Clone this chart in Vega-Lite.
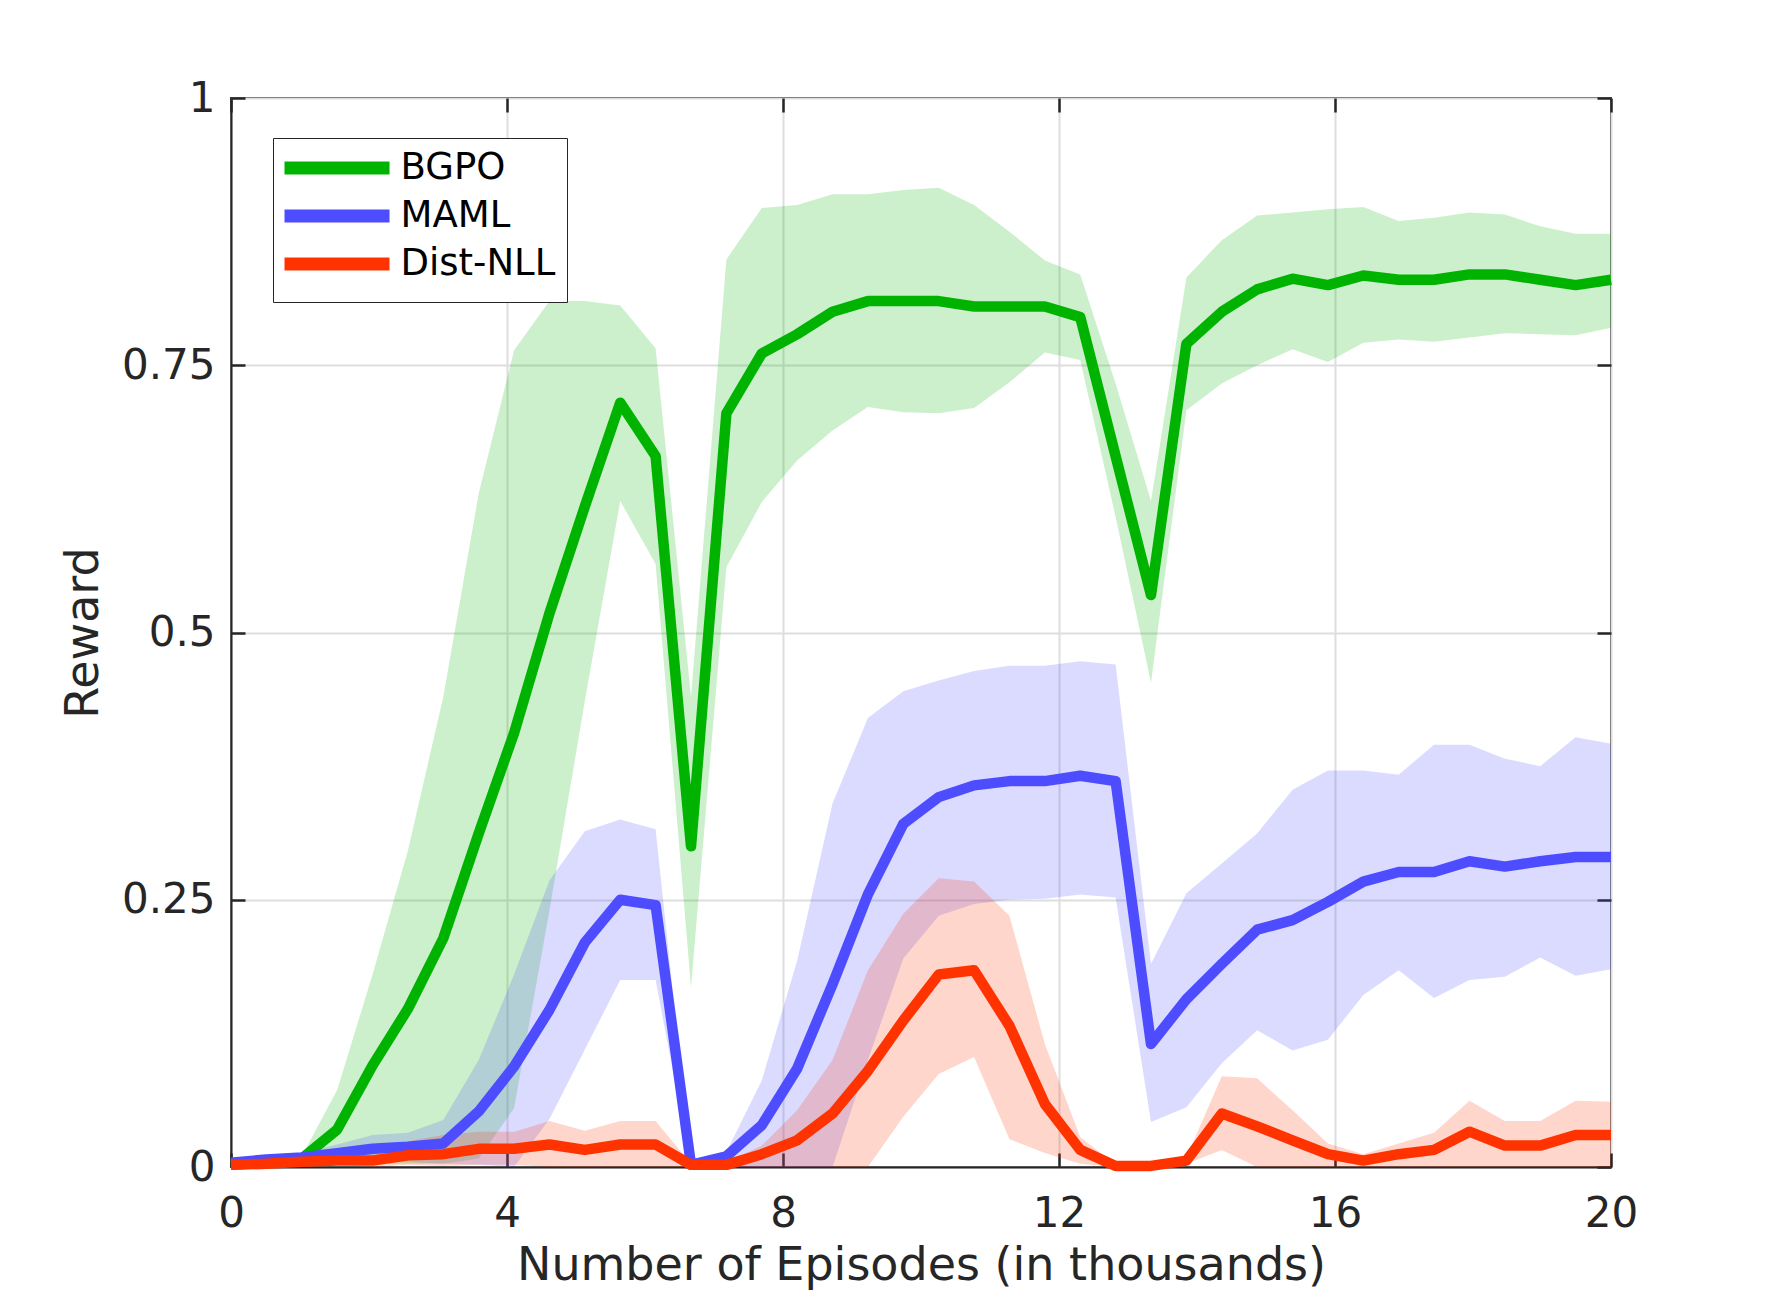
{
  "$schema": "https://vega.github.io/schema/vega-lite/v6.json",
  "description": "Reward vs. number of episodes for BGPO, MAML and Dist-NLL, mean with shaded band.",
  "autosize": {"type": "none"},
  "padding": {"left": 231, "top": 98, "right": 170, "bottom": 146},
  "width": 1380,
  "height": 1069,
  "background": "white",
  "config": {
    "view": {"stroke": "#262626", "strokeWidth": 2},
    "font": "DejaVu Sans"
  },
  "data": {
    "values": [
      {"x":0,"m":"BGPO","mean":0.002,"lo":0,"hi":0.003},
      {"x":0.5128,"m":"BGPO","mean":0.004,"lo":0.001,"hi":0.005},
      {"x":1.0256,"m":"BGPO","mean":0.008,"lo":0.003,"hi":0.01},
      {"x":1.5385,"m":"BGPO","mean":0.035,"lo":0.003,"hi":0.072},
      {"x":2.0513,"m":"BGPO","mean":0.095,"lo":0.003,"hi":0.18},
      {"x":2.5641,"m":"BGPO","mean":0.148,"lo":0.003,"hi":0.296},
      {"x":3.0769,"m":"BGPO","mean":0.214,"lo":0.003,"hi":0.44},
      {"x":3.5897,"m":"BGPO","mean":0.312,"lo":0.008,"hi":0.63},
      {"x":4.1026,"m":"BGPO","mean":0.406,"lo":0.055,"hi":0.764},
      {"x":4.6154,"m":"BGPO","mean":0.518,"lo":0.24,"hi":0.81},
      {"x":5.1282,"m":"BGPO","mean":0.618,"lo":0.436,"hi":0.81},
      {"x":5.641,"m":"BGPO","mean":0.715,"lo":0.623,"hi":0.806},
      {"x":6.1538,"m":"BGPO","mean":0.665,"lo":0.564,"hi":0.766},
      {"x":6.6667,"m":"BGPO","mean":0.3,"lo":0.168,"hi":0.44},
      {"x":7.1795,"m":"BGPO","mean":0.705,"lo":0.561,"hi":0.849},
      {"x":7.6923,"m":"BGPO","mean":0.761,"lo":0.622,"hi":0.897},
      {"x":8.2051,"m":"BGPO","mean":0.779,"lo":0.661,"hi":0.9},
      {"x":8.7179,"m":"BGPO","mean":0.8,"lo":0.689,"hi":0.91},
      {"x":9.2308,"m":"BGPO","mean":0.81,"lo":0.711,"hi":0.91},
      {"x":9.7436,"m":"BGPO","mean":0.81,"lo":0.706,"hi":0.914},
      {"x":10.2564,"m":"BGPO","mean":0.81,"lo":0.705,"hi":0.916},
      {"x":10.7692,"m":"BGPO","mean":0.805,"lo":0.71,"hi":0.9},
      {"x":11.2821,"m":"BGPO","mean":0.805,"lo":0.734,"hi":0.875},
      {"x":11.7949,"m":"BGPO","mean":0.805,"lo":0.762,"hi":0.848},
      {"x":12.3077,"m":"BGPO","mean":0.795,"lo":0.755,"hi":0.835},
      {"x":12.8205,"m":"BGPO","mean":0.665,"lo":0.608,"hi":0.733},
      {"x":13.3333,"m":"BGPO","mean":0.535,"lo":0.453,"hi":0.623},
      {"x":13.8462,"m":"BGPO","mean":0.77,"lo":0.708,"hi":0.832},
      {"x":14.359,"m":"BGPO","mean":0.8,"lo":0.733,"hi":0.867},
      {"x":14.8718,"m":"BGPO","mean":0.821,"lo":0.75,"hi":0.89},
      {"x":15.3846,"m":"BGPO","mean":0.831,"lo":0.765,"hi":0.893},
      {"x":15.8974,"m":"BGPO","mean":0.825,"lo":0.753,"hi":0.896},
      {"x":16.4103,"m":"BGPO","mean":0.834,"lo":0.771,"hi":0.898},
      {"x":16.9231,"m":"BGPO","mean":0.83,"lo":0.774,"hi":0.885},
      {"x":17.4359,"m":"BGPO","mean":0.83,"lo":0.772,"hi":0.888},
      {"x":17.9487,"m":"BGPO","mean":0.835,"lo":0.776,"hi":0.893},
      {"x":18.4615,"m":"BGPO","mean":0.835,"lo":0.78,"hi":0.891},
      {"x":18.9744,"m":"BGPO","mean":0.83,"lo":0.779,"hi":0.88},
      {"x":19.4872,"m":"BGPO","mean":0.825,"lo":0.778,"hi":0.873},
      {"x":20,"m":"BGPO","mean":0.83,"lo":0.785,"hi":0.873},

      {"x":0,"m":"MAML","mean":0.004,"lo":0.002,"hi":0.006},
      {"x":0.5128,"m":"MAML","mean":0.007,"lo":0.004,"hi":0.009},
      {"x":1.0256,"m":"MAML","mean":0.009,"lo":0.005,"hi":0.013},
      {"x":1.5385,"m":"MAML","mean":0.013,"lo":0.005,"hi":0.021},
      {"x":2.0513,"m":"MAML","mean":0.017,"lo":0.005,"hi":0.03},
      {"x":2.5641,"m":"MAML","mean":0.019,"lo":0.005,"hi":0.032},
      {"x":3.0769,"m":"MAML","mean":0.022,"lo":0.003,"hi":0.044},
      {"x":3.5897,"m":"MAML","mean":0.052,"lo":0.002,"hi":0.1},
      {"x":4.1026,"m":"MAML","mean":0.094,"lo":0,"hi":0.18},
      {"x":4.6154,"m":"MAML","mean":0.147,"lo":0.045,"hi":0.268},
      {"x":5.1282,"m":"MAML","mean":0.21,"lo":0.11,"hi":0.314},
      {"x":5.641,"m":"MAML","mean":0.25,"lo":0.175,"hi":0.325},
      {"x":6.1538,"m":"MAML","mean":0.245,"lo":0.175,"hi":0.316},
      {"x":6.6667,"m":"MAML","mean":0.002,"lo":0,"hi":0.003},
      {"x":7.1795,"m":"MAML","mean":0.01,"lo":0,"hi":0.014},
      {"x":7.6923,"m":"MAML","mean":0.039,"lo":0,"hi":0.081},
      {"x":8.2051,"m":"MAML","mean":0.092,"lo":0,"hi":0.193},
      {"x":8.7179,"m":"MAML","mean":0.171,"lo":0,"hi":0.34},
      {"x":9.2308,"m":"MAML","mean":0.255,"lo":0.1,"hi":0.42},
      {"x":9.7436,"m":"MAML","mean":0.321,"lo":0.195,"hi":0.445},
      {"x":10.2564,"m":"MAML","mean":0.346,"lo":0.235,"hi":0.455},
      {"x":10.7692,"m":"MAML","mean":0.357,"lo":0.246,"hi":0.464},
      {"x":11.2821,"m":"MAML","mean":0.361,"lo":0.25,"hi":0.469},
      {"x":11.7949,"m":"MAML","mean":0.361,"lo":0.251,"hi":0.469},
      {"x":12.3077,"m":"MAML","mean":0.366,"lo":0.255,"hi":0.473},
      {"x":12.8205,"m":"MAML","mean":0.361,"lo":0.252,"hi":0.47},
      {"x":13.3333,"m":"MAML","mean":0.115,"lo":0.042,"hi":0.19},
      {"x":13.8462,"m":"MAML","mean":0.157,"lo":0.056,"hi":0.256},
      {"x":14.359,"m":"MAML","mean":0.19,"lo":0.097,"hi":0.284},
      {"x":14.8718,"m":"MAML","mean":0.222,"lo":0.128,"hi":0.312},
      {"x":15.3846,"m":"MAML","mean":0.231,"lo":0.109,"hi":0.353},
      {"x":15.8974,"m":"MAML","mean":0.248,"lo":0.119,"hi":0.371},
      {"x":16.4103,"m":"MAML","mean":0.267,"lo":0.161,"hi":0.371},
      {"x":16.9231,"m":"MAML","mean":0.276,"lo":0.184,"hi":0.367},
      {"x":17.4359,"m":"MAML","mean":0.276,"lo":0.158,"hi":0.395},
      {"x":17.9487,"m":"MAML","mean":0.286,"lo":0.175,"hi":0.395},
      {"x":18.4615,"m":"MAML","mean":0.281,"lo":0.178,"hi":0.382},
      {"x":18.9744,"m":"MAML","mean":0.286,"lo":0.196,"hi":0.375},
      {"x":19.4872,"m":"MAML","mean":0.29,"lo":0.179,"hi":0.402},
      {"x":20,"m":"MAML","mean":0.29,"lo":0.185,"hi":0.396},

      {"x":0,"m":"Dist-NLL","mean":0.002,"lo":0,"hi":0.003},
      {"x":0.5128,"m":"Dist-NLL","mean":0.003,"lo":0.001,"hi":0.005},
      {"x":1.0256,"m":"Dist-NLL","mean":0.005,"lo":0.002,"hi":0.008},
      {"x":1.5385,"m":"Dist-NLL","mean":0.006,"lo":0.002,"hi":0.01},
      {"x":2.0513,"m":"Dist-NLL","mean":0.006,"lo":0,"hi":0.015},
      {"x":2.5641,"m":"Dist-NLL","mean":0.011,"lo":0.002,"hi":0.024},
      {"x":3.0769,"m":"Dist-NLL","mean":0.012,"lo":0.001,"hi":0.03},
      {"x":3.5897,"m":"Dist-NLL","mean":0.017,"lo":0.002,"hi":0.033},
      {"x":4.1026,"m":"Dist-NLL","mean":0.017,"lo":0.002,"hi":0.033},
      {"x":4.6154,"m":"Dist-NLL","mean":0.021,"lo":0,"hi":0.043},
      {"x":5.1282,"m":"Dist-NLL","mean":0.016,"lo":0,"hi":0.034},
      {"x":5.641,"m":"Dist-NLL","mean":0.021,"lo":0,"hi":0.043},
      {"x":6.1538,"m":"Dist-NLL","mean":0.021,"lo":0,"hi":0.043},
      {"x":6.6667,"m":"Dist-NLL","mean":0.002,"lo":0,"hi":0.003},
      {"x":7.1795,"m":"Dist-NLL","mean":0.002,"lo":0,"hi":0.004},
      {"x":7.6923,"m":"Dist-NLL","mean":0.012,"lo":0,"hi":0.02},
      {"x":8.2051,"m":"Dist-NLL","mean":0.025,"lo":0,"hi":0.053},
      {"x":8.7179,"m":"Dist-NLL","mean":0.05,"lo":0,"hi":0.1},
      {"x":9.2308,"m":"Dist-NLL","mean":0.09,"lo":0,"hi":0.184},
      {"x":9.7436,"m":"Dist-NLL","mean":0.137,"lo":0.047,"hi":0.237},
      {"x":10.2564,"m":"Dist-NLL","mean":0.18,"lo":0.087,"hi":0.27},
      {"x":10.7692,"m":"Dist-NLL","mean":0.184,"lo":0.103,"hi":0.267},
      {"x":11.2821,"m":"Dist-NLL","mean":0.132,"lo":0.026,"hi":0.235},
      {"x":11.7949,"m":"Dist-NLL","mean":0.059,"lo":0.013,"hi":0.115},
      {"x":12.3077,"m":"Dist-NLL","mean":0.016,"lo":0.003,"hi":0.028},
      {"x":12.8205,"m":"Dist-NLL","mean":0.001,"lo":0,"hi":0.002},
      {"x":13.3333,"m":"Dist-NLL","mean":0.001,"lo":0,"hi":0.002},
      {"x":13.8462,"m":"Dist-NLL","mean":0.006,"lo":0.003,"hi":0.009},
      {"x":14.359,"m":"Dist-NLL","mean":0.05,"lo":0.016,"hi":0.085},
      {"x":14.8718,"m":"Dist-NLL","mean":0.038,"lo":0,"hi":0.083},
      {"x":15.3846,"m":"Dist-NLL","mean":0.025,"lo":0,"hi":0.053},
      {"x":15.8974,"m":"Dist-NLL","mean":0.012,"lo":0,"hi":0.022},
      {"x":16.4103,"m":"Dist-NLL","mean":0.006,"lo":0,"hi":0.012},
      {"x":16.9231,"m":"Dist-NLL","mean":0.012,"lo":0,"hi":0.022},
      {"x":17.4359,"m":"Dist-NLL","mean":0.016,"lo":0,"hi":0.032},
      {"x":17.9487,"m":"Dist-NLL","mean":0.033,"lo":0,"hi":0.062},
      {"x":18.4615,"m":"Dist-NLL","mean":0.02,"lo":0,"hi":0.043},
      {"x":18.9744,"m":"Dist-NLL","mean":0.02,"lo":0,"hi":0.043},
      {"x":19.4872,"m":"Dist-NLL","mean":0.03,"lo":0,"hi":0.062},
      {"x":20,"m":"Dist-NLL","mean":0.03,"lo":0,"hi":0.061}
    ]
  },
  "layer": [
    {
      "transform": [{"filter": "datum.m === 'BGPO'"}],
      "mark": {"type": "area", "color": "#00b300", "opacity": 0.2},
      "encoding": {
        "x": {
          "field": "x", "type": "quantitative",
          "scale": {"domain": [0, 20], "nice": false},
          "axis": {
            "orient": "top", "values": [0, 4, 8, 12, 16, 20], "labels": false, "title": null,
            "grid": false, "domain": false, "tickSize": -14, "tickColor": "#262626", "tickWidth": 2.5
          }
        },
        "y": {
          "field": "lo", "type": "quantitative",
          "scale": {"domain": [0, 1], "nice": false},
          "axis": {
            "orient": "right", "values": [0, 0.25, 0.5, 0.75, 1], "labels": false, "title": null,
            "grid": false, "domain": false, "tickSize": -14, "tickColor": "#262626", "tickWidth": 2.5
          }
        },
        "y2": {"field": "hi"}
      }
    },
    {
      "transform": [{"filter": "datum.m === 'MAML'"}],
      "mark": {"type": "area", "color": "#4d4dff", "opacity": 0.2},
      "encoding": {
        "x": {"field": "x", "type": "quantitative", "axis": null},
        "y": {"field": "lo", "type": "quantitative", "axis": null},
        "y2": {"field": "hi"}
      }
    },
    {
      "transform": [{"filter": "datum.m === 'Dist-NLL'"}],
      "mark": {"type": "area", "color": "#ff3300", "opacity": 0.2},
      "encoding": {
        "x": {"field": "x", "type": "quantitative", "axis": null},
        "y": {"field": "lo", "type": "quantitative", "axis": null},
        "y2": {"field": "hi"}
      }
    },
    {
      "mark": {"type": "line", "strokeWidth": 10.5, "strokeJoin": "round"},
      "encoding": {
        "x": {
          "field": "x", "type": "quantitative",
          "axis": {
            "orient": "bottom", "values": [0, 4, 8, 12, 16, 20], "format": "d",
            "title": "Number of Episodes (in thousands)",
            "grid": true, "gridColor": "#dedede", "gridWidth": 2,
            "domainColor": "#262626", "domainWidth": 2,
            "tickSize": -14, "tickColor": "#262626", "tickWidth": 2.5,
            "labelFont": "DejaVu Sans", "labelFontSize": 42, "labelColor": "#262626",
            "labelPadding": 40, "labelFlush": false, "labelOverlap": false,
            "titleFont": "DejaVu Sans", "titleFontSize": 46, "titleFontWeight": "normal",
            "titleColor": "#262626", "titlePadding": 9
          }
        },
        "y": {
          "field": "mean", "type": "quantitative",
          "title": "Reward",
          "axis": {
            "orient": "left", "values": [0, 0.25, 0.5, 0.75, 1], "format": ".2~f",
            "grid": true, "gridColor": "#dedede", "gridWidth": 2,
            "domainColor": "#262626", "domainWidth": 2,
            "tickSize": -14, "tickColor": "#262626", "tickWidth": 2.5,
            "labelFont": "DejaVu Sans", "labelFontSize": 42, "labelColor": "#262626",
            "labelPadding": 30, "labelFlush": false, "labelOverlap": false,
            "titleFont": "DejaVu Sans", "titleFontSize": 46, "titleFontWeight": "normal",
            "titleColor": "#262626", "titlePadding": 14
          }
        },
        "color": {
          "field": "m", "type": "nominal",
          "scale": {"domain": ["BGPO", "MAML", "Dist-NLL"], "range": ["#00b300", "#4d4dff", "#ff3300"]},
          "legend": {
            "orient": "none", "legendX": 42, "legendY": 40, "title": null,
            "symbolType": "M-1.762,0H8.238", "symbolSize": 441, "symbolStrokeWidth": 13,
            "labelOffset": 79, "labelFont": "DejaVu Sans", "labelFontSize": 37, "labelColor": "#000000",
            "rowPadding": -5, "padding": 11.5,
            "strokeColor": "#262626", "fillColor": "#ffffff"
          }
        }
      }
    }
  ],
  "resolve": {"axis": {"x": "independent", "y": "independent"}}
}
